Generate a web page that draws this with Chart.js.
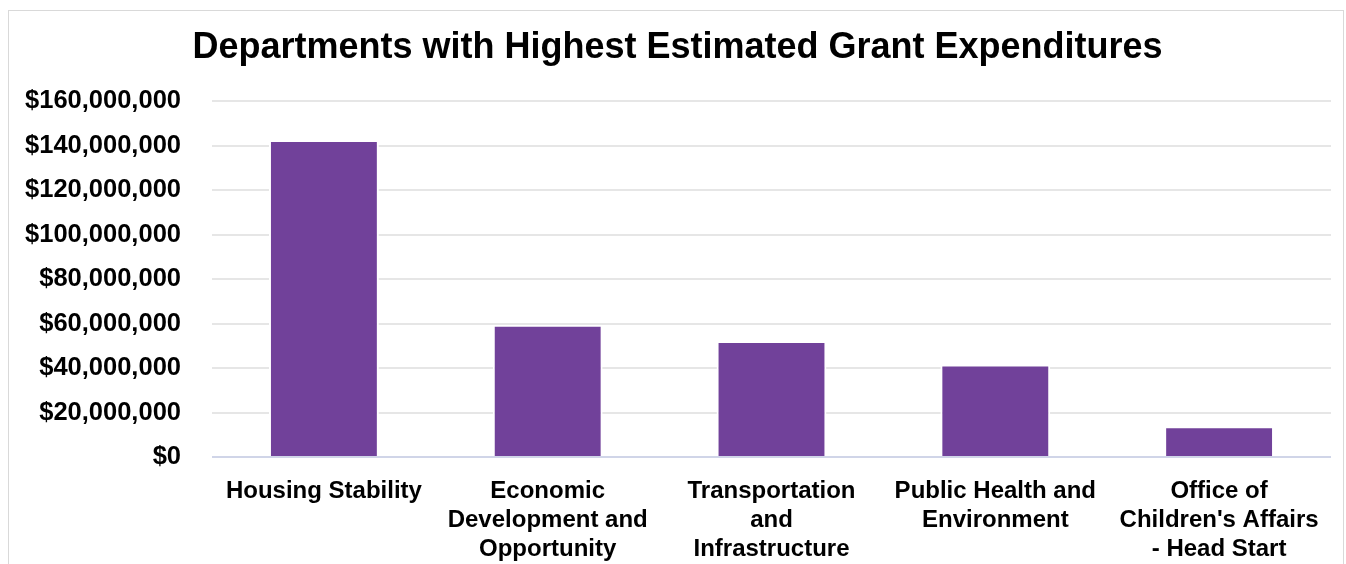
<!DOCTYPE html>
<html>
<head>
<meta charset="utf-8">
<script src="https://cdn.jsdelivr.net/npm/chart.js@4"></script>
<style>
  html, body { margin: 0; padding: 0; background: #fff; overflow: hidden; }
  #wrap { position: relative; width: 1346px; height: 564px; }
  #frame { position: absolute; left: 8px; top: 10px; width: 1336px; height: 600px; border: 1px solid #d9d9d9; box-sizing: border-box; }
  canvas { position: absolute; left: 0; top: 0; }
</style>
</head>
<body>
<div id="wrap">
  <div id="frame"></div>
  <canvas id="c" width="1346" height="564"></canvas>
</div>
<script>
// Departments and their estimated grant expenditures (USD)
const departments = [
  ["Housing Stability"],
  ["Economic", "Development and", "Opportunity"],
  ["Transportation", "and", "Infrastructure"],
  ["Public Health and", "Environment"],
  ["Office of", "Children's Affairs", "- Head Start"]
];
const expenditures = [142500000, 59500000, 52200000, 41600000, 13800000];
const yTicks = [0, 20000000, 40000000, 60000000, 80000000, 100000000, 120000000, 140000000, 160000000];

const FONT = "'Liberation Sans', Arial, sans-serif";
const money = v => '$' + Number(v).toLocaleString('en-US');

new Chart(document.getElementById('c'), {
  type: 'bar',
  data: {
    labels: departments,
    datasets: [{
      data: expenditures,
      backgroundColor: '#71419a',
      borderColor: '#ffffff',
      borderWidth: 2,
      borderSkipped: 'start',
      categoryPercentage: 1,
      barPercentage: 0.491
    }]
  },
  options: {
    responsive: false,
    animation: false,
    layout: { padding: { top: 12, right: 15, bottom: 0, left: 24 } },
    plugins: {
      legend: { display: false },
      tooltip: { enabled: false },
      title: {
        display: true,
        text: 'Departments with Highest Estimated Grant Expenditures',
        color: '#000',
        font: { family: FONT, size: 36, weight: 'bold' },
        padding: { top: 14, bottom: 32 }
      }
    },
    scales: {
      x: {
        grid: { display: false, drawTicks: false },
        border: { display: false },
        ticks: {
          color: '#000',
          font: { family: FONT, size: 24, weight: 'bold', lineHeight: 1.2 },
          padding: 20,
          maxRotation: 0,
          autoSkip: false
        },
        afterFit: s => { s.height = 107; }
      },
      y: {
        min: 0,
        max: 160000000,
        afterBuildTicks: s => { s.ticks = yTicks.map(v => ({ value: v })); },
        grid: {
          drawTicks: false,
          lineWidth: 2,
          color: ctx => ctx.index === 0 ? '#d0d5e8' : '#e6e6e6'
        },
        border: { display: false },
        ticks: {
          color: '#000',
          font: { family: FONT, size: 25.5, weight: 'bold' },
          padding: 31,
          callback: v => money(v)
        },
        afterFit: s => { s.width = 188; }
      }
    }
  }
});
</script>
</body>
</html>
